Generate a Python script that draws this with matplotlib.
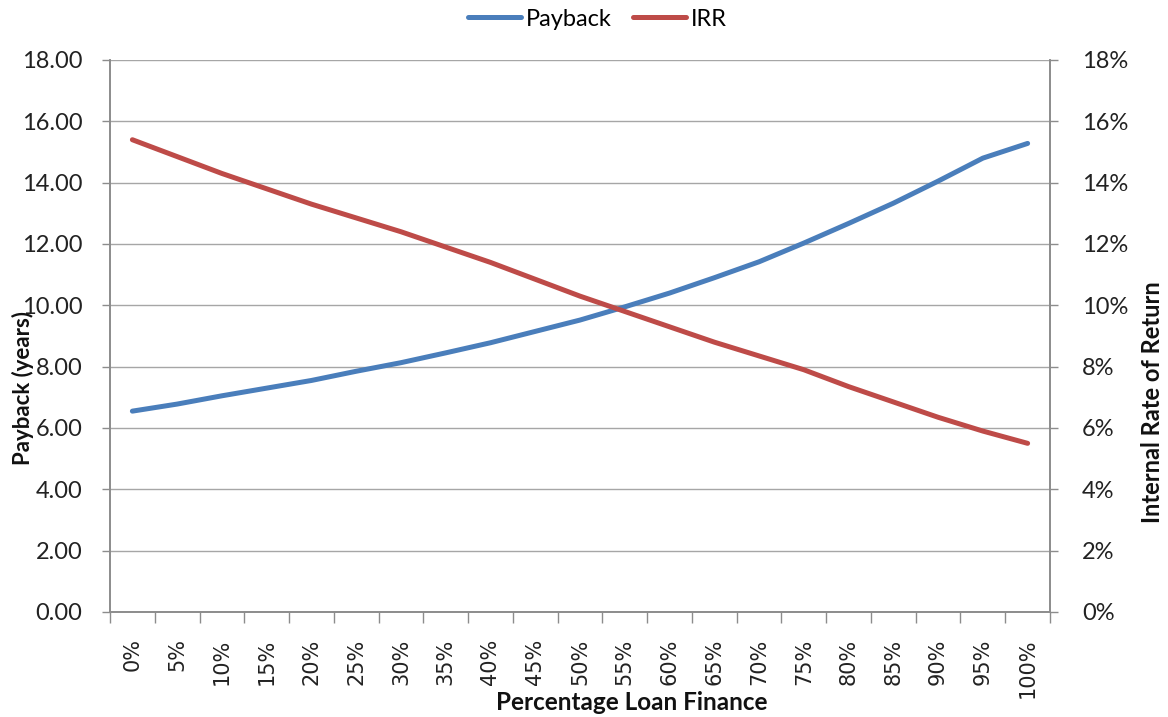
import matplotlib
matplotlib.use("Agg")
import matplotlib.pyplot as plt
from matplotlib.ticker import FixedLocator, FuncFormatter, NullFormatter
import numpy as np

# Loan share categories
categories = ["0%", "5%", "10%", "15%", "20%", "25%", "30%", "35%", "40%", "45%", "50%",
              "55%", "60%", "65%", "70%", "75%", "80%", "85%", "90%", "95%", "100%"]

# Payback period in years
payback = [6.55, 6.78, 7.05, 7.30, 7.55, 7.85, 8.13, 8.45, 8.78, 9.15, 9.52,
           9.95, 10.40, 10.90, 11.42, 12.03, 12.67, 13.33, 14.05, 14.80, 15.28]

# Internal rate of return in percent
irr = [15.40, 14.85, 14.30, 13.80, 13.30, 12.85, 12.40, 11.90, 11.40, 10.85, 10.30,
       9.80, 9.30, 8.80, 8.35, 7.90, 7.35, 6.85, 6.35, 5.90, 5.50]

left_ticks = [0, 2, 4, 6, 8, 10, 12, 14, 16, 18]
right_ticks = [0, 2, 4, 6, 8, 10, 12, 14, 16, 18]

BLUE = "#4a7ebb"
RED = "#be4b48"
GRID = "#a6a6a6"
SPINE = "#8c8c8c"
FONT = ["Lato", "DejaVu Sans"]

fig = plt.figure(figsize=(11.68, 7.17), dpi=100)
ax = fig.add_axes([110 / 1168, 1 - 612 / 717, 940 / 1168, 552 / 717])
ax2 = ax.twinx()

x = np.arange(len(categories))
l1, = ax.plot(x, payback, color=BLUE, lw=3.6, solid_capstyle="round", label="Payback", zorder=3)
l2, = ax2.plot(x, irr, color=RED, lw=3.6, solid_capstyle="round", label="IRR", zorder=3)

ax.set_xlim(-0.5, len(categories) - 0.5)
ax.set_ylim(0, 18)
ax2.set_ylim(0, 18)

ax.yaxis.set_major_locator(FixedLocator(left_ticks))
ax.yaxis.set_major_formatter(FuncFormatter(lambda v, p: f"{v:.2f}"))
ax2.yaxis.set_major_locator(FixedLocator(right_ticks))
ax2.yaxis.set_major_formatter(FuncFormatter(lambda v, p: f"{int(round(v))}%"))

ax.set_xticks(x)
ax.set_xticklabels(categories, rotation=90, fontsize=15, family="DejaVu Sans", color="#222222")
ax.set_xticks(np.arange(-0.5, len(categories)), minor=True)
ax.xaxis.set_minor_formatter(NullFormatter())
ax.tick_params(axis="x", which="major", length=0, pad=19)
ax.tick_params(axis="x", which="minor", length=8, color=SPINE, width=1)

ax.tick_params(axis="y", length=6, color=SPINE, width=1, pad=14, labelsize=17)
ax2.tick_params(axis="y", length=6, color=SPINE, width=1, pad=17, labelsize=17)
for lab in ax.get_yticklabels() + ax2.get_yticklabels():
    lab.set_family(FONT)
    lab.set_color("#222222")

ax.grid(axis="y", color=GRID, lw=1)
ax.set_axisbelow(True)
for a in (ax, ax2):
    a.spines["top"].set_visible(False)
    for s in ("left", "right", "bottom"):
        a.spines[s].set_color(SPINE)
        a.spines[s].set_linewidth(1.2)

fig.text(632 / 1168, 1 - 702 / 717, "Percentage Loan Finance", ha="center", va="center",
         fontsize=17.5, fontweight="bold", family=FONT, color="#111111")
fig.text(23 / 1168, 1 - 388 / 717, "Payback (years)", ha="center", va="center", rotation=90,
         fontsize=16, fontweight="bold", family=FONT, color="#111111")
fig.text(1152 / 1168, 1 - 402 / 717, "Internal Rate of Return", ha="center", va="center",
         rotation=90, fontsize=17, fontweight="bold", family=FONT, color="#111111")

leg = fig.legend(handles=[l1, l2], loc="center", bbox_to_anchor=(597 / 1168, 1 - 19 / 717),
                 ncol=2, frameon=False, handlelength=2.25, handletextpad=0.2,
                 columnspacing=0.9, prop={"family": FONT, "size": 17})

fig.savefig("out.png", dpi=100, facecolor="white")
